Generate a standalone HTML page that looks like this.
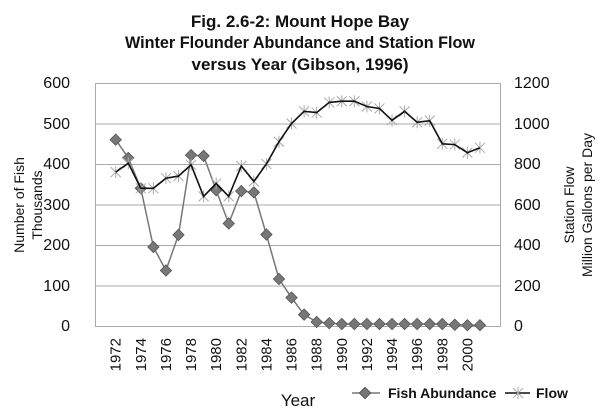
<!DOCTYPE html>
<html><head><style>body{margin:0;background:#fff}svg{display:block}text{font-family:"Liberation Sans",Arial,sans-serif}</style></head>
<body>
<svg width="600" height="414" xmlns="http://www.w3.org/2000/svg">
<g font-weight="bold" font-size="17" text-anchor="middle" fill="#111">
<text x="300" y="27">Fig. 2.6-2: Mount Hope Bay</text>
<text x="300" y="48" textLength="350" lengthAdjust="spacingAndGlyphs">Winter Flounder Abundance and Station Flow</text>
<text x="300" y="70">versus Year (Gibson, 1996)</text>
</g>
<g stroke="#aaa" stroke-width="1">
<line x1="95" y1="83.5" x2="501" y2="83.5"/><line x1="95" y1="124" x2="501" y2="124"/><line x1="95" y1="164.5" x2="501" y2="164.5"/><line x1="95" y1="205" x2="501" y2="205"/><line x1="95" y1="245.5" x2="501" y2="245.5"/><line x1="95" y1="286" x2="501" y2="286"/>
<line x1="95" y1="326.5" x2="501" y2="326.5"/><line x1="95.5" y1="83" x2="95.5" y2="327"/><line x1="500.5" y1="83" x2="500.5" y2="327"/>
</g>
<g font-size="16" fill="#111" text-anchor="end">
<text x="70" y="88">600</text><text x="70" y="129">500</text><text x="70" y="169">400</text><text x="70" y="210">300</text><text x="70" y="250">200</text><text x="70" y="291">100</text><text x="70" y="331">0</text>
</g>
<g font-size="16" fill="#111" text-anchor="start">
<text x="514" y="88">1200</text><text x="514" y="129">1000</text><text x="514" y="169">800</text><text x="514" y="210">600</text><text x="514" y="250">400</text><text x="514" y="291">200</text><text x="514" y="331">0</text>
</g>
<g font-size="14" fill="#111" text-anchor="middle">
<text transform="translate(24,205) rotate(-90)">Number of Fish</text>
<text transform="translate(42,205) rotate(-90)">Thousands</text>
<text transform="translate(574,205) rotate(-90)">Station Flow</text>
<text transform="translate(592,205) rotate(-90)">Million Gallons per Day</text>
</g>
<g id="xl" font-size="15" fill="#111" text-anchor="end"></g>
<text x="298" y="406" font-size="17" text-anchor="middle" fill="#111">Year</text>
<g id="series"></g>
<line x1="352" y1="393" x2="380" y2="393" stroke="#777" stroke-width="1.5"/>
<rect x="361" y="389" width="8" height="8" fill="#777" stroke="#555" transform="rotate(45 365 393)"/>
<text x="388" y="398" font-size="14" font-weight="bold" fill="#111">Fish Abundance</text>
<line x1="505" y1="393" x2="530" y2="393" stroke="#111" stroke-width="1.5"/>
<path d="M513,388 L523,398 M523,388 L513,398 M518,387 V399" stroke="#aaa" stroke-width="1"/>
<text x="536" y="398" font-size="14" font-weight="bold" fill="#111">Flow</text>
</svg>
<script>
var fish=[460,415,340,195,137,225,422,420,335,253,333,330,226,116,70,28,10,7,5,5,5,5,5,5,5,5,5,3,2,2];
var flow=[380,402,340,340,365,370,398,320,352,320,395,357,400,455,500,530,527,552,555,555,542,537,508,530,503,507,450,448,428,440];
function X(i){return 115.7+i*12.56;}
function Y(v){return 326-v*0.405;}
var s=document.getElementById("series"),h="";
var p1=fish.map(function(v,i){return X(i).toFixed(1)+","+Y(v).toFixed(1)}).join(" ");
h+='<polyline points="'+p1+'" fill="none" stroke="#777" stroke-width="1.5"/>';
fish.forEach(function(v,i){var x=X(i),y=Y(v);h+='<rect x="'+(x-4)+'" y="'+(y-4)+'" width="8" height="8" fill="#777" stroke="#555" stroke-width="0.8" transform="rotate(45 '+x+' '+y+')"/>';});
var p2=flow.map(function(v,i){return X(i).toFixed(1)+","+Y(v).toFixed(1)}).join(" ");
flow.forEach(function(v,i){var x=X(i),y=Y(v);h+='<path d="M'+(x-5)+','+(y-5)+' L'+(x+5)+','+(y+5)+' M'+(x+5)+','+(y-5)+' L'+(x-5)+','+(y+5)+' M'+x+','+(y-6)+' V'+(y+6)+'" stroke="#aaa" stroke-width="1"/>';});
h+='<polyline points="'+p2+'" fill="none" stroke="#111" stroke-width="1.6"/>';
s.innerHTML=h;
var xl=document.getElementById("xl"),t="";
for(var i=0;i<30;i+=2){var x=X(i)+5;t+='<text transform="translate('+x+',338) rotate(-90)">'+(1972+i)+'</text>';}
xl.innerHTML=t;
</script>
</body></html>
